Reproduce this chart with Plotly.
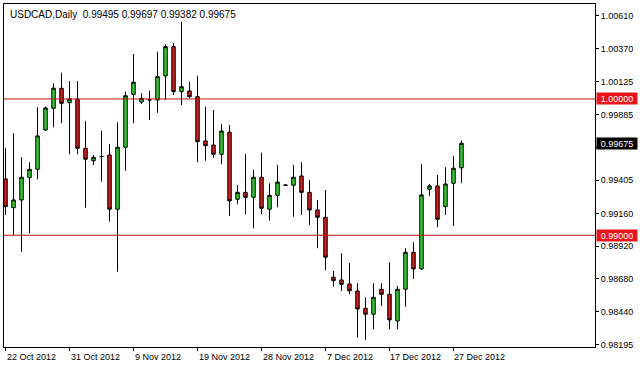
import plotly.graph_objects as go

dates = ["2012-10-22", "2012-10-23", "2012-10-24", "2012-10-25", "2012-10-26", "2012-10-28", "2012-10-29", "2012-10-30", "2012-10-31",
         "2012-11-01", "2012-11-02", "2012-11-04", "2012-11-05", "2012-11-06", "2012-11-07", "2012-11-08", "2012-11-09",
         "2012-11-11", "2012-11-12", "2012-11-13", "2012-11-14", "2012-11-15", "2012-11-16", "2012-11-18", "2012-11-19",
         "2012-11-20", "2012-11-21", "2012-11-22", "2012-11-23", "2012-11-25", "2012-11-26", "2012-11-27", "2012-11-28",
         "2012-11-29", "2012-11-30", "2012-12-02", "2012-12-03", "2012-12-04", "2012-12-05", "2012-12-06", "2012-12-07",
         "2012-12-09", "2012-12-10", "2012-12-11", "2012-12-12", "2012-12-13", "2012-12-14", "2012-12-16", "2012-12-17",
         "2012-12-18", "2012-12-19", "2012-12-20", "2012-12-21", "2012-12-23", "2012-12-24", "2012-12-26", "2012-12-27",
         "2012-12-28"]

opens = [0.99413, 0.99202, 0.99259, 0.99423, 0.99484, 0.99773, 0.99932, 1.00079, 0.99973, 0.99998,
         0.99638, 0.99547, 0.99577, 0.99589, 0.99191, 0.99646, 1.00034, 0.99978, 0.99993, 0.99993,
         1.00169, 1.00384, 1.00054, 1.00059, 1.00017, 0.99692, 0.99662, 0.99594, 0.99756, 0.99264,
         0.99315, 0.99279, 0.99426, 0.99191, 0.99293, 0.99367, 0.99367, 0.99435, 0.99315, 0.99186,
         0.99132, 0.98692, 0.98672, 0.98643, 0.98591, 0.98464, 0.98420, 0.98604, 0.98567, 0.98371,
         0.98604, 0.98875, 0.98753, 0.99337, 0.99362, 0.99210, 0.99381, 0.99495]
highs = [0.99640, 0.99748, 0.99572, 0.99536, 0.99939, 0.99946, 1.00115, 1.00193, 1.00132, 1.00132,
         0.99839, 0.99589, 0.99767, 0.99670, 0.99829, 1.00054, 1.00330, 1.00042, 1.00061, 1.00347,
         1.00401, 1.00409, 1.00567, 1.00127, 1.00171, 0.99944, 0.99919, 0.99817, 0.99809, 0.99369,
         0.99596, 0.99479, 0.99606, 0.99381, 0.99516, 0.99373, 0.99516, 0.99536, 0.99406, 0.99259,
         0.99332, 0.98738, 0.98868, 0.98795, 0.98648, 0.98545, 0.98648, 0.98648, 0.98802, 0.98628,
         0.98905, 0.98949, 0.99523, 0.99376, 0.99442, 0.99499, 0.99582, 0.99697]
lows = [0.99149, 0.99002, 0.98880, 0.99015, 0.99411, 0.99765, 0.99792, 0.99822, 0.99594, 0.99594,
        0.99202, 0.99516, 0.99393, 0.99100, 0.98733, 0.99474, 0.99822, 0.99963, 0.99846, 0.99899,
        0.99993, 1.00029, 0.99956, 1.00005, 0.99536, 0.99547, 0.99569, 0.99521, 0.99142, 0.99227,
        0.99154, 0.99051, 0.99154, 0.99107, 0.99205, 0.99362, 0.99136, 0.99149, 0.99076, 0.98905,
        0.98745, 0.98623, 0.98591, 0.98567, 0.98249, 0.98232, 0.98310, 0.98481, 0.98310, 0.98310,
        0.98476, 0.98679, 0.98745, 0.99288, 0.99059, 0.99149, 0.99068, 0.99382]
closes = [0.99210, 0.99259, 0.99426, 0.99484, 0.99729, 0.99934, 1.00079, 0.99968, 1.00000, 0.99638,
          0.99558, 0.99572, 0.99578, 0.99191, 0.99646, 1.00024, 1.00123, 1.00005, 0.99994, 1.00164,
          1.00384, 1.00054, 1.00090, 1.00017, 0.99687, 0.99657, 0.99594, 0.99765, 0.99252, 0.99315,
          0.99279, 0.99426, 0.99198, 0.99293, 0.99391, 0.99368, 0.99426, 0.99315, 0.99186, 0.99132,
          0.98839, 0.98667, 0.98640, 0.98593, 0.98459, 0.98420, 0.98545, 0.98567, 0.98379, 0.98604,
          0.98875, 0.98753, 0.99296, 0.99362, 0.99117, 0.99376, 0.99492, 0.99675]

tick_dates = ["2012-10-22", "2012-10-31", "2012-11-09", "2012-11-19",
              "2012-11-28", "2012-12-07", "2012-12-17", "2012-12-27"]
tick_labels = ["22 Oct 2012", "31 Oct 2012", "9 Nov 2012", "19 Nov 2012",
               "28 Nov 2012", "7 Dec 2012", "17 Dec 2012", "27 Dec 2012"]
y_ticks = [1.00610, 1.00370, 1.00125, 0.99885, 0.99645, 0.99405,
           0.99160, 0.98920, 0.98680, 0.98440, 0.98195]
y_tick_labels = ["1.00610", "1.00370", "1.00125", "0.99885", "", "0.99405",
                 "0.99160", "0.98920", "0.98680", "0.98440", "0.98195"]
levels = [1.00000, 0.99000]
last_price = 0.99675
title_text = "USDCAD,Daily  0.99495 0.99697 0.99382 0.99675"

FONT = "Liberation Sans, Arial, sans-serif"

fig = go.Figure()
fig.add_trace(go.Candlestick(
    x=dates, open=opens, high=highs, low=lows, close=closes,
    increasing=dict(fillcolor="#32CD32", line=dict(color="black", width=1)),
    decreasing=dict(fillcolor="#C81E1E", line=dict(color="black", width=1)),
    whiskerwidth=0, showlegend=False, hoverinfo="skip",
))

shapes = []
annotations = []
for lv in levels:
    shapes.append(dict(type="line", xref="paper", x0=0, x1=1, yref="y", y0=lv, y1=lv,
                       line=dict(color="#B81010", width=1), layer="above"))
    annotations.append(dict(xref="paper", x=1, xanchor="left", xshift=1, yref="y", y=lv,
                            text=f"{lv:.5f}", showarrow=False, bgcolor="#E8141A",
                            font=dict(family=FONT, size=9, color="white"),
                            width=40, height=11, borderpad=0))
annotations.append(dict(xref="paper", x=1, xanchor="left", xshift=1, yref="y", y=last_price,
                        text=f"{last_price:.5f}", showarrow=False, bgcolor="black",
                        font=dict(family=FONT, size=9, color="white"),
                        width=40, height=11, borderpad=0))
for d, lab in zip(tick_dates, tick_labels):
    annotations.append(dict(xref="x", x=d, xanchor="left", xshift=-1, yref="paper", y=0,
                            yanchor="top", yshift=-3, text=lab, showarrow=False,
                            font=dict(family=FONT, size=9, color="black")))
annotations.append(dict(xref="paper", x=0, xanchor="left", xshift=4, yref="paper", y=1,
                        yanchor="top", yshift=-3, text=title_text, showarrow=False,
                        font=dict(family=FONT, size=10, color="black")))

fig.update_layout(
    width=640, height=368,
    margin=dict(l=4, r=45, t=4, b=21),
    paper_bgcolor="white", plot_bgcolor="white",
    boxgap=0.38,
    shapes=shapes, annotations=annotations,
    font=dict(family=FONT, size=9, color="black"),
    xaxis=dict(type="category", range=[-0.19, 73.69], rangeslider=dict(visible=False),
               tickmode="array", tickvals=tick_dates, showticklabels=False,
               ticks="outside", ticklen=3, tickcolor="black",
               showgrid=False, zeroline=False, showline=True, linecolor="black",
               linewidth=1, mirror=True, fixedrange=True),
    yaxis=dict(side="right", range=[0.98180, 1.00697], tickmode="array",
               tickvals=y_ticks, ticktext=y_tick_labels,
               ticks="outside", ticklen=3, tickcolor="black",
               tickfont=dict(family=FONT, size=9, color="black"),
               showgrid=False, zeroline=False, showline=True, linecolor="black",
               linewidth=1, mirror=True, fixedrange=True),
)

fig.write_html("out.html")
